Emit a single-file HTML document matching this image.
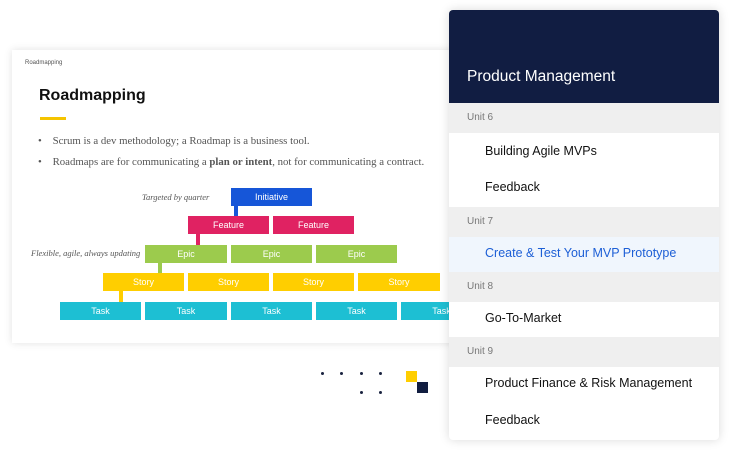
<!DOCTYPE html>
<html><head><meta charset="utf-8"><style>
*{margin:0;padding:0;box-sizing:border-box}
body{width:731px;height:454px;background:#fff;position:relative;overflow:hidden;font-family:"Liberation Sans",sans-serif}
.abs{position:absolute}
.slide{left:12px;top:50px;width:450px;height:293px;background:#fff;box-shadow:0 0 8px rgba(0,0,0,.12)}
.b{position:absolute;height:18px;color:#fff;font-size:9px;text-align:center;line-height:18px}
.pan{left:449px;top:10px;width:270px;height:430px;background:#fff;border-radius:4px;box-shadow:0 0 10px rgba(0,0,0,.15);overflow:hidden}
.u{position:absolute;left:0;width:270px;height:30px;background:#efefef;color:#777;font-size:10px;padding-left:18px;line-height:30px}
.i{position:absolute;left:36px;font-size:12.5px;color:#111}
.d{position:absolute;width:3px;height:3px;border-radius:50%;background:#1a2340}
</style></head><body>
<div class="abs slide">
<div class="abs" style="left:13px;top:10px;font-size:6px;color:#555">Roadmapping</div>
<div class="abs" style="left:27px;top:37px;font-size:16px;font-weight:bold;color:#111">Roadmapping</div>
<div class="abs" style="left:28px;top:67px;width:26px;height:3px;background:#f5c400"></div>
<div class="abs" style="left:26px;top:81px;font-family:'Liberation Serif',serif;font-size:10.8px;color:#555;line-height:21px">
<div>•&nbsp;&nbsp;&nbsp;&nbsp;Scrum is a dev methodology; a Roadmap is a business tool.</div>
<div>•&nbsp;&nbsp;&nbsp;&nbsp;Roadmaps are for communicating a <b>plan or intent</b>, not for communicating a contract.</div></div>
<div class="abs" style="left:130px;top:142px;font-family:'Liberation Serif',serif;font-style:italic;font-size:8.5px;color:#555">Targeted by quarter</div>
<div class="abs" style="left:19px;top:198px;font-family:'Liberation Serif',serif;font-style:italic;font-size:8.5px;color:#555">Flexible, agile, always updating</div>
</div>
<div class="abs" style="left:234px;top:205px;width:4px;height:12px;background:#1656d8"></div>
<div class="abs" style="left:196px;top:233px;width:4px;height:13px;background:#e02262"></div>
<div class="abs" style="left:158px;top:262px;width:4px;height:12px;background:#9ccb4d"></div>
<div class="abs" style="left:119px;top:290px;width:4px;height:13px;background:#ffce00"></div>
<div class="b" style="left:231px;top:188px;width:81px;background:#1656d8">Initiative</div>
<div class="b" style="left:188px;top:216px;width:81px;background:#e02262">Feature</div>
<div class="b" style="left:273px;top:216px;width:81px;background:#e02262">Feature</div>
<div class="b" style="left:145px;top:245px;width:82px;background:#9ccb4d">Epic</div>
<div class="b" style="left:231px;top:245px;width:81px;background:#9ccb4d">Epic</div>
<div class="b" style="left:316px;top:245px;width:81px;background:#9ccb4d">Epic</div>
<div class="b" style="left:103px;top:273px;width:81px;background:#ffce00">Story</div>
<div class="b" style="left:188px;top:273px;width:81px;background:#ffce00">Story</div>
<div class="b" style="left:273px;top:273px;width:81px;background:#ffce00">Story</div>
<div class="b" style="left:358px;top:273px;width:82px;background:#ffce00">Story</div>
<div class="b" style="left:60px;top:302px;width:81px;background:#1dbfd3">Task</div>
<div class="b" style="left:145px;top:302px;width:82px;background:#1dbfd3">Task</div>
<div class="b" style="left:231px;top:302px;width:81px;background:#1dbfd3">Task</div>
<div class="b" style="left:316px;top:302px;width:81px;background:#1dbfd3">Task</div>
<div class="b" style="left:401px;top:302px;width:81px;background:#1dbfd3">Task</div>
<div class="d" style="left:321px;top:372px"></div><div class="d" style="left:340px;top:372px"></div>
<div class="d" style="left:360px;top:372px"></div><div class="d" style="left:379px;top:372px"></div>
<div class="d" style="left:360px;top:391px"></div><div class="d" style="left:379px;top:391px"></div>
<div class="abs" style="left:406px;top:371px;width:11px;height:11px;background:#ffce00"></div>
<div class="abs" style="left:417px;top:382px;width:11px;height:11px;background:#111d40"></div>
<div class="abs pan">
<div class="abs" style="left:0;top:0;width:270px;height:93px;background:#111d42"></div>
<div class="abs" style="left:18px;top:58px;font-size:15.5px;color:#fff">Product Management</div>
<div class="u" style="top:93px">Unit 6</div>
<div class="i" style="top:134px">Building Agile MVPs</div>
<div class="i" style="top:170px">Feedback</div>
<div class="u" style="top:197px">Unit 7</div>
<div class="abs" style="left:0;top:227px;width:270px;height:35px;background:#f0f6fd"></div>
<div class="i" style="top:236px;color:#1d5fd6">Create &amp; Test Your MVP Prototype</div>
<div class="u" style="top:262px">Unit 8</div>
<div class="i" style="top:301px">Go-To-Market</div>
<div class="u" style="top:327px">Unit 9</div>
<div class="i" style="top:366px">Product Finance &amp; Risk Management</div>
<div class="i" style="top:403px">Feedback</div>
</div>
</body></html>
